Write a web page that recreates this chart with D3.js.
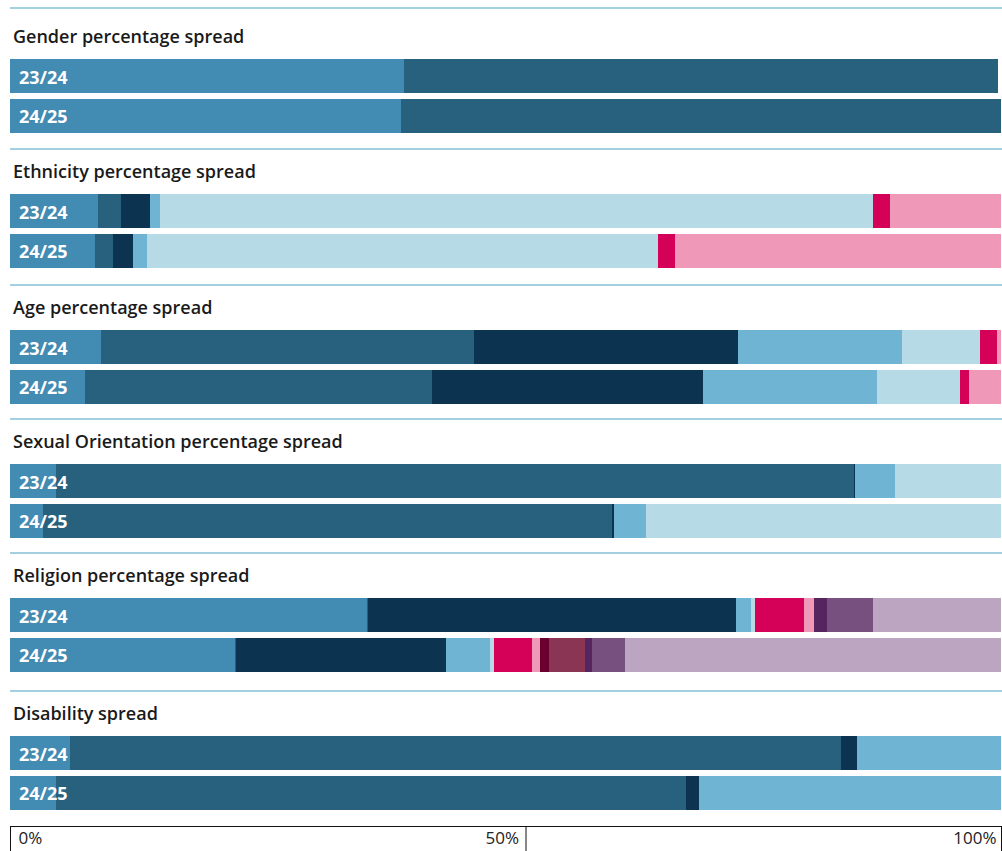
<!DOCTYPE html>
<html>
<head>
<meta charset="utf-8">
<script src="https://cdn.jsdelivr.net/npm/d3@7"></script>
<style>
    body { margin: 0; background: #fff; }
    svg { display: block; font-family: 'Open Sans', sans-serif; }
</style>
</head>
<body>
<svg id="chart"></svg>
<script>
// Data (percent of each bar, in palette order)
const titles = [
    'Gender percentage spread',
    'Ethnicity percentage spread',
    'Age percentage spread',
    'Sexual Orientation percentage spread',
    'Religion percentage spread',
    'Disability spread'
];
const years = ['23/24', '24/25'];

const gender = [
    [39.8, 59.9],
    [39.5, 60.5]
];
const ethnicity = [
    [8.88, 2.32, 2.93, 1.01, 71.95, 1.72, 11.2],
    [8.58, 1.82, 2.02, 1.41, 51.56, 1.72, 32.89]
];
const age = [
    [9.18, 37.64, 26.64, 16.55, 7.87, 1.72, 0.4],
    [7.57, 35.02, 27.35, 17.56, 8.38, 0.91, 3.21]
];
const sexualOrientation = [
    [4.64, 80.53, 0.1, 4.04, 10.69],
    [3.33, 57.42, 0.2, 3.23, 35.82]
];
const religion = [
    [36.0, 0.1, 37.16, 1.51, 0.4, 4.94, 1.01, 0, 0, 1.31, 4.64, 12.92],
    [22.7, 0.11, 21.19, 4.44, 0.4, 3.83, 0.81, 0.91, 3.63, 0.71, 3.33, 37.94]
];
const disability = [
    [6.05, 77.8, 1.61, 14.53],
    [4.64, 63.57, 1.31, 30.47]
];
const axisTicks = [0, 50, 100];

const palette = ['#428bb2', '#28617e', '#0c3350', '#70b4d3', '#b6dbe6', '#d50057',
    '#f098b8', '#6b0030', '#8b3555', '#56245f', '#77507f', '#bca5c1'];

class spreadChart {

    constructor(_config, _data) {
        this.config = {
            parentElement: _config.parentElement,
            containerWidth: 1002,
            containerHeight: 851,
            barHeight: 34
        }
        this.data = _data;
        this.initVis();
    }

    initVis() {
        let vis = this;

        vis.svg = d3.select(vis.config.parentElement)
            .attr('width', vis.config.containerWidth)
            .attr('height', vis.config.containerHeight);

        // percent -> pixel
        vis.xScale = d3.scaleLinear()
            .domain([0, 100])
            .range([10, 1001]);

        // section index -> top of first bar (layout isn't perfectly even)
        vis.yScale = d3.scaleLinear()
            .domain([0, 1, 2, 3, 4, 5])
            .range([59, 194, 330, 464, 598, 736]);

        vis.updateVis();
    }

    updateVis() {
        let vis = this;

        // turn each bar into stacked segments
        vis.sections = vis.data.map((s, i) => ({
            title: s.title,
            index: i,
            bars: s.values.map((vals, j) => {
                let acc = 0;
                return {
                    year: years[j],
                    row: j,
                    segs: vals.map((v, k) => {
                        const seg = { x0: acc, x1: acc + v, color: palette[k] };
                        acc += v;
                        return seg;
                    }).filter(d => d.x1 > d.x0)
                };
            })
        }));

        vis.renderVis();
    }

    renderVis() {
        let vis = this;
        const bh = vis.config.barHeight;

        // separator lines
        vis.svg.selectAll('.sep')
            .data(vis.sections)
            .join('line')
            .attr('class', 'sep')
            .attr('x1', 10)
            .attr('x2', vis.config.containerWidth)
            .attr('y1', d => d.index === 0 ? 8 : vis.yScale(d.index) - 45)
            .attr('y2', d => d.index === 0 ? 8 : vis.yScale(d.index) - 45)
            .attr('stroke', '#84bfd6')
            .attr('stroke-width', 1.5);

        const section = vis.svg.selectAll('.section')
            .data(vis.sections)
            .join('g')
            .attr('class', 'section')
            .attr('transform', d => `translate(0,${vis.yScale(d.index)})`);

        section.append('text')
            .attr('x', 13)
            .attr('y', -16)
            .attr('font-size', 18)
            .attr('font-weight', 600)
            .attr('fill', '#1a1a1a')
            .text(d => d.title);

        const bar = section.selectAll('.bar')
            .data(d => d.bars)
            .join('g')
            .attr('class', 'bar')
            .attr('transform', d => `translate(0,${d.row * 39.5})`);

        bar.selectAll('rect')
            .data(d => d.segs)
            .join('rect')
            .attr('x', d => vis.xScale(d.x0))
            .attr('width', d => vis.xScale(d.x1) - vis.xScale(d.x0))
            .attr('y', 0)
            .attr('height', bh)
            .attr('fill', d => d.color)
            .attr('shape-rendering', 'crispEdges');

        bar.append('text')
            .attr('x', 19)
            .attr('y', 24.5)
            .attr('font-size', 18)
            .attr('font-weight', 700)
            .attr('fill', '#fff')
            .text(d => d.year);

        // bottom percentage axis (d3 adds its own half-pixel offset)
        const axisY = 826;
        vis.xAxis = d3.axisBottom(vis.xScale)
            .tickValues(axisTicks)
            .tickSize(0)
            .tickSizeOuter(0)
            .tickFormat(d => `${d}%`);

        vis.xAxisG = vis.svg.append('g')
            .attr('transform', `translate(0,${axisY})`)
            .call(vis.xAxis);

        vis.xAxisG.select('.domain').attr('stroke', '#111');
        vis.xAxisG.selectAll('.tick text')
            .attr('font-family', 'Open Sans, sans-serif')
            .attr('font-size', 17)
            .attr('fill', '#222')
            .attr('y', 18)
            .attr('dy', 0)
            .attr('text-anchor', d => d === 0 ? 'start' : 'end')
            .attr('dx', d => d === 0 ? 8 : d === 50 ? 13 : -5);

        // cell dividers below the axis line
        vis.xAxisG.selectAll('.tick')
            .append('line')
            .attr('x1', d => d === 50 ? 20 : 0)
            .attr('x2', d => d === 50 ? 20 : 0)
            .attr('y1', 0)
            .attr('y2', 30)
            .attr('stroke', '#111');
    }
}

const chartData = [gender, ethnicity, age, sexualOrientation, religion, disability]
    .map((values, i) => ({ title: titles[i], values: values }));

new spreadChart({ parentElement: '#chart' }, chartData);
</script>
</body>
</html>
